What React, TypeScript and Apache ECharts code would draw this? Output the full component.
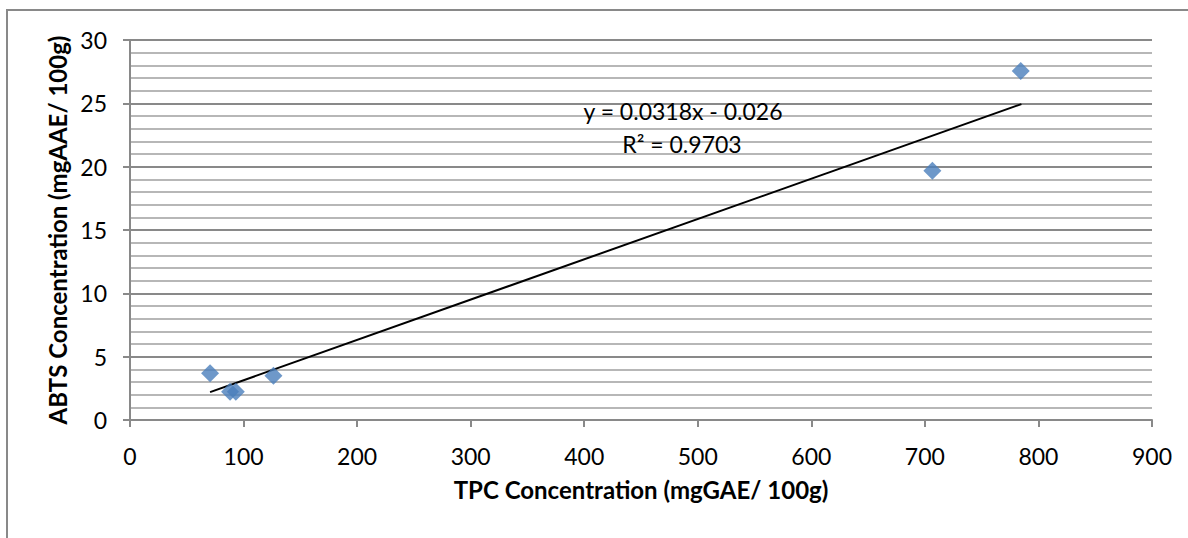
import React, { useEffect, useRef } from "react";
import * as echarts from "echarts";

const tpcValues = [70.5, 88.1, 93.2, 126.3, 706.6, 784.4];
const abtsValues = [3.69, 2.24, 2.24, 3.5, 19.67, 27.56];
const trendX = [70.5, 785];
const trendY = [2.2, 24.94];
const xTitle = "TPC Concentration (mgGAE/ 100g)";
const yTitle = "ABTS Concentration (mgAAE/ 100g)";
const equationText = "y = 0.0318x - 0.026";
const r2Text = "R² = 0.9703";

const FONT = "Lato, 'Open Sans', sans-serif";

export default function App() {
  const ref = useRef<HTMLDivElement>(null);
  useEffect(() => {
    if (!ref.current) return;
    const chart = echarts.init(ref.current, undefined, { renderer: "svg" });
    const points = tpcValues.map((x, i) => [x, abtsValues[i]]);
    const trend = trendX.map((x, i) => [x, trendY[i]]);
    chart.setOption({
      animation: false,
      backgroundColor: "#ffffff",
      textStyle: { fontFamily: FONT },
      grid: { left: 130, right: 36, top: 40, bottom: 118 },
      graphic: [
        {
          type: "rect",
          shape: { x: 7, y: 10, width: 1300, height: 700 },
          style: { fill: "none", stroke: "#898989", lineWidth: 2 },
          silent: true,
          z: -1,
        },
        {
          type: "text",
          x: 683,
          y: 111,
          z: 100,
          style: {
            text: equationText,
            fontFamily: FONT,
            fontSize: 23,
            fill: "#000",
            align: "center",
            verticalAlign: "middle",
          },
        },
        {
          type: "text",
          x: 682,
          y: 144,
          z: 100,
          style: {
            text: r2Text,
            fontFamily: FONT,
            fontSize: 23,
            fill: "#000",
            align: "center",
            verticalAlign: "middle",
          },
        },
      ],
      xAxis: {
        type: "value",
        min: 0,
        max: 900,
        interval: 100,
        name: xTitle,
        nameLocation: "middle",
        nameGap: 57,
        nameTextStyle: { fontFamily: FONT, fontSize: 24, fontWeight: "bold", color: "#000" },
        axisLine: { show: true, lineStyle: { color: "#898989", width: 2 } },
        axisTick: { show: true, length: 7, lineStyle: { color: "#898989", width: 2 } },
        axisLabel: { margin: 24, fontFamily: FONT, fontSize: 23, color: "#000" },
        splitLine: { show: false },
      },
      yAxis: {
        type: "value",
        min: 0,
        max: 30,
        interval: 5,
        name: yTitle,
        nameLocation: "middle",
        nameGap: 60,
        nameTextStyle: { fontFamily: FONT, fontSize: 24, fontWeight: "bold", color: "#000" },
        axisLine: { show: true, lineStyle: { color: "#898989", width: 2 } },
        axisTick: { show: true, length: 7, lineStyle: { color: "#898989", width: 2 } },
        axisLabel: { margin: 23, fontFamily: FONT, fontSize: 23, color: "#000" },
        splitLine: { show: true, lineStyle: { color: "#898989", width: 2 } },
        minorTick: { show: false, splitNumber: 5 },
        minorSplitLine: { show: true, lineStyle: { color: "#b7b7b7", width: 2 } },
      },
      series: [
        {
          type: "line",
          data: trend,
          showSymbol: false,
          symbol: "none",
          lineStyle: { color: "#000", width: 2 },
          z: 2,
        },
        {
          type: "scatter",
          data: points,
          symbol: "diamond",
          symbolSize: [18, 18],
          itemStyle: { color: "#4a7ebb" },
          z: 3,
        },
      ],
    });
    return () => chart.dispose();
  }, []);
  return (
    <div
      ref={ref}
      style={{ position: "fixed", left: 0, top: 0, width: 1188, height: 538 }}
    />
  );
}
